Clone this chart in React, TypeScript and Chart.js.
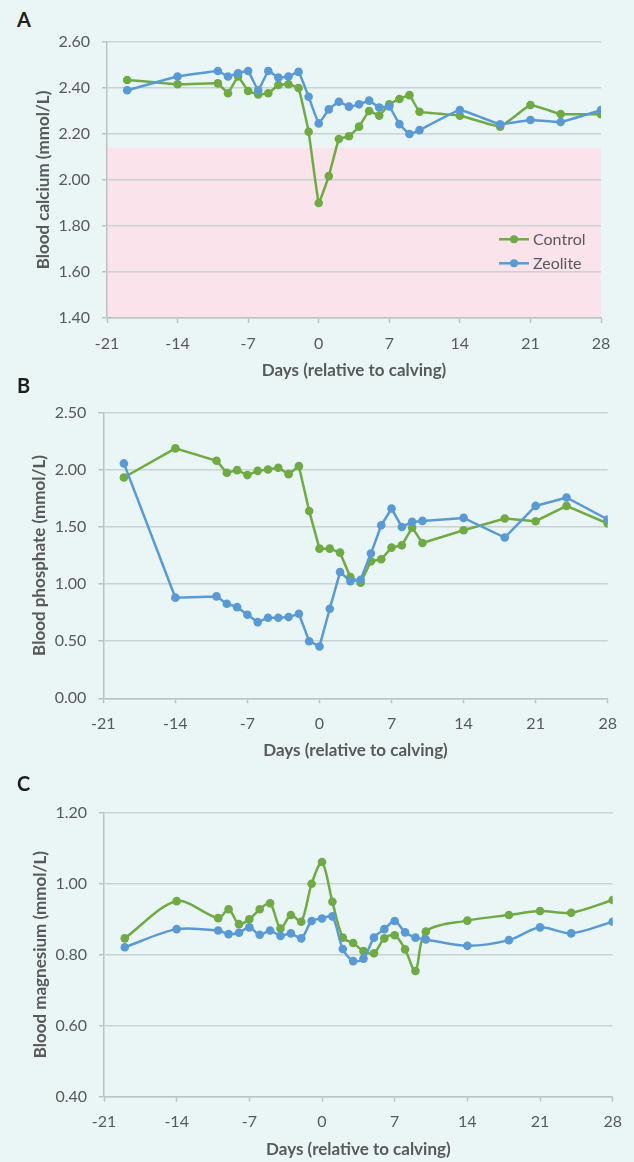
import React, { useEffect, useRef } from "react";
import { Chart, registerables } from "chart.js";

Chart.register(...registerables);

// ---------- DATA ----------
const DAYS = [-19, -14, -10, -9, -8, -7, -6, -5, -4, -3, -2, -1, 0, 1, 2, 3, 4, 5, 6, 7, 8, 9, 10, 14, 18, 21, 24, 28];

const SERIES_NAMES = ["Control", "Zeolite"];

const CALCIUM_CONTROL = [2.435, 2.416, 2.42, 2.377, 2.45, 2.387, 2.372, 2.377, 2.413, 2.416, 2.4, 2.21, 1.9, 2.017, 2.178, 2.19, 2.232, 2.3, 2.28, 2.329, 2.352, 2.369, 2.297, 2.28, 2.232, 2.326, 2.287, 2.286];
const CALCIUM_ZEOLITE = [2.39, 2.45, 2.474, 2.45, 2.464, 2.474, 2.39, 2.474, 2.445, 2.45, 2.47, 2.362, 2.246, 2.307, 2.34, 2.319, 2.329, 2.345, 2.315, 2.32, 2.243, 2.2, 2.217, 2.304, 2.242, 2.261, 2.252, 2.304];

const PHOSPHATE_CONTROL = [1.933, 2.188, 2.079, 1.974, 1.997, 1.954, 1.991, 2.003, 2.018, 1.962, 2.032, 1.64, 1.31, 1.31, 1.275, 1.061, 1.012, 1.199, 1.217, 1.319, 1.339, 1.494, 1.36, 1.471, 1.574, 1.55, 1.684, 1.53];
const PHOSPHATE_ZEOLITE = [2.056, 0.881, 0.892, 0.828, 0.798, 0.731, 0.667, 0.705, 0.705, 0.711, 0.74, 0.5, 0.454, 0.784, 1.105, 1.026, 1.038, 1.267, 1.515, 1.661, 1.5, 1.544, 1.553, 1.579, 1.407, 1.684, 1.758, 1.565];

const MAGNESIUM_CONTROL = [0.846, 0.951, 0.903, 0.928, 0.886, 0.9, 0.928, 0.945, 0.874, 0.912, 0.893, 1.0, 1.061, 0.949, 0.848, 0.833, 0.81, 0.804, 0.846, 0.855, 0.815, 0.754, 0.865, 0.896, 0.912, 0.923, 0.918, 0.954];
const MAGNESIUM_ZEOLITE = [0.821, 0.872, 0.868, 0.858, 0.862, 0.877, 0.856, 0.868, 0.853, 0.86, 0.846, 0.895, 0.902, 0.908, 0.816, 0.782, 0.789, 0.848, 0.872, 0.895, 0.863, 0.848, 0.843, 0.825, 0.841, 0.877, 0.86, 0.893];

const X_MIN = -21;
const X_MAX = 28;
const X_STEP = 7;
const X_TITLE = "Days (relative to calving)";

const CALCIUM_LOW_LIMIT = 2.14; // hypocalcaemia band upper bound

// ---------- STYLE ----------
const BG = "#EAF6F6";
const PINK = "#FBE3EC";
const GRID = "#CBD2D2";
const AXIS = "#BCC3C3";
const TEXT = "#595959";
const GREEN = "#6FAA45";
const BLUE = "#5A9AD4";
const FONT = "Lato, 'Open Sans', sans-serif";
const W = 634;
const Y_W = 100;
const X_H = 72;

type PanelSpec = {
  letter: string;
  control: number[];
  zeolite: number[];
  yMin: number;
  yMax: number;
  yStep: number;
  yTitle: string;
  left: number;
  right: number;
  top: number;
  bottom: number;
  canvasTop: number;
  canvasHeight: number;
  letterTop: number;
  tension: number;
  band?: number;
  legend?: boolean;
};

const PANELS: PanelSpec[] = [
  {
    letter: "A", control: CALCIUM_CONTROL, zeolite: CALCIUM_ZEOLITE,
    yMin: 1.4, yMax: 2.6, yStep: 0.2, yTitle: "Blood calcium (mmol/L)",
    left: 107, right: 601, top: 42, bottom: 318, canvasTop: 0, canvasHeight: 390,
    letterTop: 8.7, tension: 0.08, band: CALCIUM_LOW_LIMIT, legend: true,
  },
  {
    letter: "B", control: PHOSPHATE_CONTROL, zeolite: PHOSPHATE_ZEOLITE,
    yMin: 0, yMax: 2.5, yStep: 0.5, yTitle: "Blood phosphate (mmol/L)",
    left: 103.3, right: 607.7, top: 412.7, bottom: 698.3, canvasTop: 390, canvasHeight: 390,
    letterTop: 374.8, tension: 0,
  },
  {
    letter: "C", control: MAGNESIUM_CONTROL, zeolite: MAGNESIUM_ZEOLITE,
    yMin: 0.4, yMax: 1.2, yStep: 0.2, yTitle: "Blood magnesium (mmol/L)",
    left: 104, right: 612.7, top: 812.7, bottom: 1096.7, canvasTop: 780, canvasHeight: 382,
    letterTop: 773.4, tension: 0.3,
  },
];

function Panel({ spec }: { spec: PanelSpec }) {
  const ref = useRef<HTMLCanvasElement | null>(null);

  useEffect(() => {
    if (!ref.current) return;
    const bandPlugin = {
      id: "band",
      beforeDraw(chart: any) {
        if (spec.band === undefined) return;
        const { ctx, chartArea, scales } = chart;
        const y1 = scales.y.getPixelForValue(spec.band);
        const y2 = scales.y.getPixelForValue(spec.yMin);
        ctx.save();
        ctx.fillStyle = PINK;
        ctx.fillRect(chartArea.left, y1, chartArea.right - chartArea.left, y2 - y1);
        ctx.restore();
      },
    };
    const legendPlugin = {
      id: "panelLegend",
      afterDatasetsDraw(chart: any) {
        if (!spec.legend) return;
        const { ctx, chartArea } = chart;
        const items = [
          { label: SERIES_NAMES[0], color: GREEN },
          { label: SERIES_NAMES[1], color: BLUE },
        ];
        ctx.save();
        items.forEach((it, i) => {
          const y = chartArea.bottom - 78.7 + i * 24;
          const x0 = chartArea.right - 102;
          ctx.strokeStyle = it.color;
          ctx.lineWidth = 2.5;
          ctx.beginPath();
          ctx.moveTo(x0, y);
          ctx.lineTo(x0 + 30, y);
          ctx.stroke();
          ctx.fillStyle = it.color;
          ctx.beginPath();
          ctx.arc(x0 + 15, y, 4, 0, Math.PI * 2);
          ctx.fill();
          ctx.fillStyle = TEXT;
          ctx.font = `16px ${FONT}`;
          ctx.textBaseline = "middle";
          ctx.textAlign = "left";
          ctx.fillText(it.label, x0 + 34, y + 1);
        });
        ctx.restore();
      },
    };

    const mk = (vals: number[]) => DAYS.map((d, i) => ({ x: d, y: vals[i] }));

    const chart = new Chart(ref.current, {
      type: "line",
      data: {
        datasets: [
          {
            label: SERIES_NAMES[1],
            data: mk(spec.zeolite),
            borderColor: BLUE,
            backgroundColor: BLUE,
            pointBackgroundColor: BLUE,
            pointBorderColor: BLUE,
            borderWidth: 2.5,
            pointRadius: 4.3,
            pointBorderWidth: 0,
            tension: spec.tension,
            order: 0,
          },
          {
            label: SERIES_NAMES[0],
            data: mk(spec.control),
            borderColor: GREEN,
            backgroundColor: GREEN,
            pointBackgroundColor: GREEN,
            pointBorderColor: GREEN,
            borderWidth: 2.5,
            pointRadius: 4.3,
            pointBorderWidth: 0,
            tension: spec.tension,
            order: 1,
          },
        ],
      },
      options: {
        animation: false,
        responsive: false,
        maintainAspectRatio: false,
        devicePixelRatio: 1,
        events: [],
        layout: {
          padding: {
            left: spec.left - Y_W,
            right: W - spec.right,
            top: spec.top - spec.canvasTop,
            bottom: spec.canvasTop + spec.canvasHeight - spec.bottom - X_H,
          },
        },
        plugins: {
          legend: { display: false },
          tooltip: { enabled: false },
        },
        scales: {
          x: {
            type: "linear",
            min: X_MIN,
            max: X_MAX,
            ticks: {
              stepSize: X_STEP,
              color: TEXT,
              font: { family: FONT, size: 16 },
              padding: 11,
              maxRotation: 0,
            },
            grid: {
              drawOnChartArea: false,
              drawTicks: true,
              tickLength: 5,
              tickColor: AXIS,
              tickWidth: 1.5,
            },
            border: { display: true, color: AXIS, width: 1.5 },
            title: {
              display: true,
              text: X_TITLE,
              color: TEXT,
              font: { family: FONT, size: 17, weight: "bold" },
              padding: { top: 0, bottom: 9.3 },
            },
            afterFit: (s: any) => {
              s.height = X_H;
            },
          },
          y: {
            type: "linear",
            min: spec.yMin,
            max: spec.yMax,
            ticks: {
              stepSize: spec.yStep,
              color: TEXT,
              font: { family: FONT, size: 16 },
              padding: 12,
              callback: (v: any) => Number(v).toFixed(2),
            },
            grid: {
              color: GRID,
              lineWidth: 1.5,
              tickLength: 5,
              tickColor: AXIS,
            },
            border: { display: true, color: AXIS, width: 1.5 },
            title: {
              display: true,
              text: spec.yTitle,
              color: TEXT,
              font: { family: FONT, size: 17, weight: "bold" },
              padding: { top: 26.3, bottom: 0 },
            },
            afterFit: (s: any) => {
              s.width = Y_W;
            },
          },
        },
      } as any,
      plugins: [bandPlugin, legendPlugin],
    });
    return () => chart.destroy();
  }, [spec]);

  return (
    <>
      <div
        style={{
          position: "absolute",
          left: 17,
          top: spec.letterTop,
          font: `bold 20px ${FONT}`,
          lineHeight: "20px",
          color: "#1E1E1E",
        }}
      >
        {spec.letter}
      </div>
      <canvas
        ref={ref}
        width={W}
        height={spec.canvasHeight}
        style={{
          position: "absolute",
          left: 0,
          top: spec.canvasTop,
          width: W,
          height: spec.canvasHeight,
        }}
      />
    </>
  );
}

export default function App() {
  return (
    <div
      style={{
        position: "fixed",
        left: 0,
        top: 0,
        width: W,
        height: 1162,
        background: BG,
        overflow: "hidden",
      }}
    >
      {PANELS.map((p) => (
        <Panel key={p.letter} spec={p} />
      ))}
    </div>
  );
}
